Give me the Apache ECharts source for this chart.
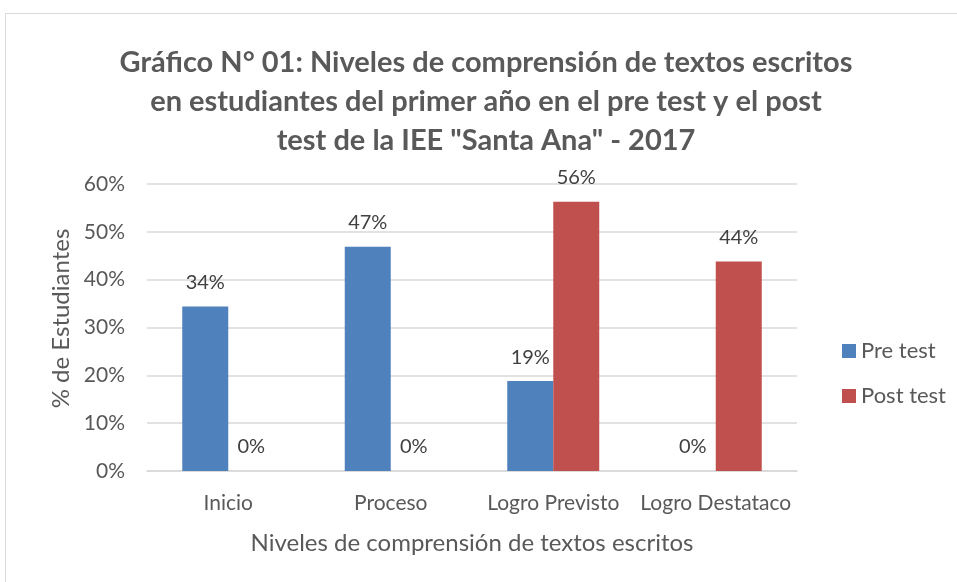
<!DOCTYPE html>
<html><head><meta charset="utf-8">
<script src="https://cdn.jsdelivr.net/npm/echarts@6/dist/echarts.min.js"></script>
<style>html,body{margin:0;padding:0;background:#fff}#c{width:957px;height:582px}</style>
</head><body><div id="c"></div>
<script>
const categories = ['Inicio', 'Proceso', 'Logro Previsto', 'Logro Destataco'];
const preTest = [0.344, 0.469, 0.188, 0];
const postTest = [0, 0, 0.563, 0.438];
const seriesNames = ['Pre test', 'Post test'];
const titleText = 'Gráfico N° 01: Niveles de comprensión de textos escritos\nen estudiantes del primer año en el pre test y el post\ntest de la IEE "Santa Ana" - 2017';
const xAxisName = 'Niveles de comprensión de textos escritos';
const yAxisName = '% de Estudiantes';

const FONT = 'Lato';
const pct = v => Math.round(v * 100) + '%';
const chart = echarts.init(document.getElementById('c'));
const labelCfg = {show: true, position: 'top', distance: 14, fontFamily: FONT, fontSize: 20, color: '#404040',
  formatter: p => pct(p.value)};
chart.setOption({
  backgroundColor: '#fff',
  animation: false,
  graphic: [{type: 'rect', shape: {x: 5.5, y: 13.5, width: 1000, height: 1000},
    style: {fill: 'none', stroke: '#D9D9D9', lineWidth: 1}}],
  title: {text: titleText, left: 481, top: 38, textAlign: 'center',
    textStyle: {fontFamily: FONT, fontWeight: 'bold', fontSize: 29, color: '#595959', lineHeight: 39}},
  legend: {orient: 'vertical', left: 837, top: 335, itemWidth: 14, itemHeight: 14, itemGap: 23,
    icon: 'rect', data: seriesNames,
    textStyle: {fontFamily: FONT, fontSize: 22, color: '#595959'}},
  grid: {left: 147, right: 160, top: 184, bottom: 111},
  xAxis: {type: 'category', data: categories,
    axisLine: {show: true, lineStyle: {color: '#D9D9D9', width: 1.5}}, axisTick: {show: false},
    axisLabel: {fontFamily: FONT, fontSize: 21, color: '#595959', margin: 22, interval: 0},
    name: xAxisName, nameLocation: 'middle', nameGap: 60,
    nameTextStyle: {fontFamily: FONT, fontSize: 24, color: '#595959'}},
  yAxis: {type: 'value', min: 0, max: 0.6, interval: 0.1,
    axisLine: {show: false}, axisTick: {show: false},
    splitLine: {lineStyle: {color: '#D9D9D9', width: 1.5}},
    axisLabel: {fontFamily: FONT, fontSize: 21, color: '#595959', margin: 22, formatter: v => pct(v)},
    name: yAxisName, nameLocation: 'middle', nameGap: 72, nameRotate: 90,
    nameTextStyle: {fontFamily: FONT, fontSize: 24, color: '#595959', padding: [0, 0, 0, 18]}},
  series: [
    {name: seriesNames[0], type: 'bar', data: preTest, barWidth: 46, barGap: '0%',
      itemStyle: {color: '#4F81BD'}, label: labelCfg},
    {name: seriesNames[1], type: 'bar', data: postTest, barWidth: 46, barGap: '0%',
      itemStyle: {color: '#C0504D'}, label: labelCfg}
  ]
});
</script></body></html>
